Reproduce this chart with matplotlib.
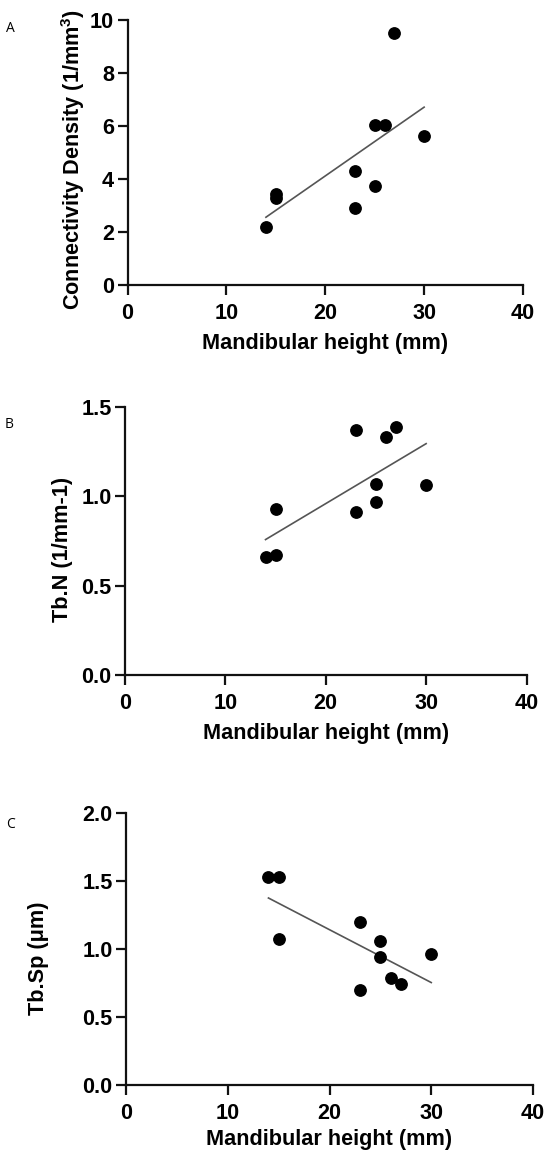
import numpy as np
import matplotlib
matplotlib.use("Agg")
import matplotlib.pyplot as plt

plt.rcParams['font.family'] = ['Liberation Sans', 'DejaVu Sans']
plt.rcParams['font.weight'] = 'bold'
plt.rcParams['mathtext.fontset'] = 'custom'
plt.rcParams['mathtext.bf'] = 'Liberation Sans:bold'
plt.rcParams['mathtext.rm'] = 'Liberation Sans:bold'
plt.rcParams['mathtext.default'] = 'bf'

# mandibular height (mm), same subjects in all three panels
height_a = [14, 15, 15, 23, 23, 25, 25, 26, 27, 30]
conn_density = [2.2, 3.45, 3.3, 4.3, 2.9, 6.05, 3.75, 6.05, 9.5, 5.62]

height_b = [14, 15, 15, 23, 23, 25, 25, 26, 27, 30]
tb_n = [0.66, 0.67, 0.93, 1.37, 0.91, 1.07, 0.97, 1.33, 1.39, 1.065]

height_c = [14, 15, 15, 23, 23, 25, 25, 26, 27, 30]
tb_sp = [1.53, 1.53, 1.07, 1.20, 0.70, 1.06, 0.94, 0.79, 0.74, 0.965]

x_ticks = [0, 10, 20, 30, 40]
yticks_a = [0, 2, 4, 6, 8, 10]
yticks_b = [0.0, 0.5, 1.0, 1.5]
yticks_c = [0.0, 0.5, 1.0, 1.5, 2.0]

W, H = 545, 1158
FS = 15.6
fig = plt.figure(figsize=(W / 100, H / 100), dpi=100)


def box(left, right, top, bottom):
    return [left / W, 1 - bottom / H, (right - left) / W, (bottom - top) / H]


panels = [
    dict(rect=box(127.5, 523, 20, 285), x=height_a, y=conn_density, ticks=yticks_a,
         fmt='{:.0f}', ylabel='Connectivity Density (1/mm$^{3}$)',
         ylab_x=73, ylab_y=160, xlab_y=343, letter='A', letter_xy=(10.5, 28)),
    dict(rect=box(125, 526.5, 407, 675), x=height_b, y=tb_n, ticks=yticks_b,
         fmt='{:.1f}', ylabel='Tb.N (1/mm-1)',
         ylab_x=62.5, ylab_y=549, xlab_y=733, letter='B', letter_xy=(8.7, 425)),
    dict(rect=box(126, 533, 813, 1085), x=height_c, y=tb_sp, ticks=yticks_c,
         fmt='{:.1f}', ylabel='Tb.Sp (\u03bcm)',
         ylab_x=38.5, ylab_y=958, xlab_y=1140, letter='C', letter_xy=(10.5, 825)),
]

for p in panels:
    ax = fig.add_axes(p['rect'])
    x = np.array(p['x'], dtype=float)
    y = np.array(p['y'], dtype=float)

    # linear regression line over the data range
    slope, icpt = np.polyfit(x, y, 1)
    xs = np.array([x.min(), x.max()])
    ax.plot(xs, slope * xs + icpt, color='#555555', lw=1.2, zorder=2)
    ax.plot(x, y, 'o', color='black', ms=8.2, clip_on=False, zorder=3)

    ax.set_xlim(0, 40)
    ax.set_ylim(p['ticks'][0], p['ticks'][-1])
    ax.set_xticks(x_ticks)
    ax.set_yticks(p['ticks'])
    ax.set_yticklabels([p['fmt'].format(t) for t in p['ticks']])

    for s in ['top', 'right']:
        ax.spines[s].set_visible(False)
    for s in ['left', 'bottom']:
        ax.spines[s].set_linewidth(1.6)
        ax.spines[s].set_color('#111111')
    ax.tick_params(axis='both', direction='out', length=7.2, width=1.6,
                   color='#111111', labelsize=FS)
    ax.tick_params(axis='x', pad=6)
    ax.tick_params(axis='y', pad=2.5)
    for lab in ax.get_xticklabels() + ax.get_yticklabels():
        lab.set_fontweight('bold')

    ax.set_xlabel('Mandibular height (mm)', fontsize=FS, fontweight='bold', va='center')
    ax.set_ylabel(p['ylabel'], fontsize=FS, fontweight='bold', va='center')
    bb = p['rect']
    ax.xaxis.set_label_coords(0.5, (1 - p['xlab_y'] / H - bb[1]) / bb[3])
    ax.yaxis.set_label_coords((p['ylab_x'] / W - bb[0]) / bb[2],
                              (1 - p['ylab_y'] / H - bb[1]) / bb[3])

    lx, ly = p['letter_xy']
    fig.text(lx / W, 1 - ly / H, p['letter'], fontsize=10, fontweight='normal',
             family='Open Sans', ha='center', va='center')

fig.savefig('out.png', dpi=100)
